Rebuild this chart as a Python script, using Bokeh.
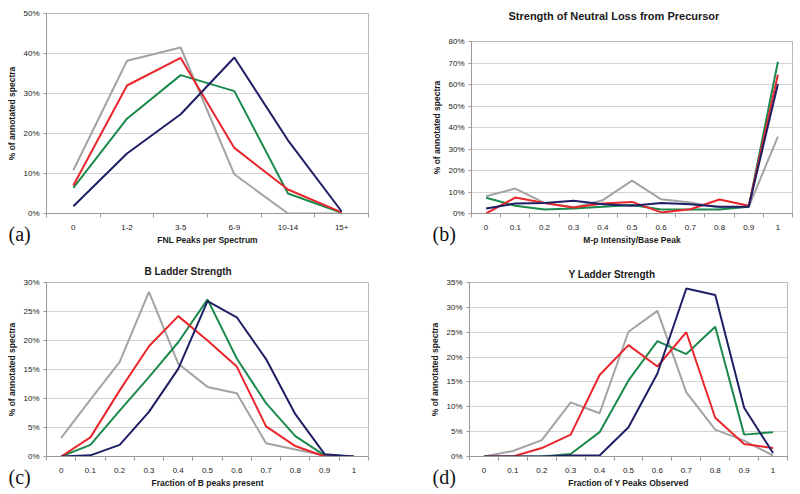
from bokeh.plotting import figure
from bokeh.layouts import column, row
from bokeh.models import FixedTicker, Range1d, Label, PrintfTickFormatter, Title
from bokeh.embed import file_html
from bokeh.resources import INLINE

# ---------------- data ----------------
fnl_labels = ["0", "1-2", "3-5", "6-9", "10-14", "15+"]
fnl_navy = [1.8, 15.0, 24.8, 39.0, 18.3, 0.5]
fnl_red = [7.0, 32.0, 38.9, 16.4, 6.0, 0.3]
fnl_green = [6.4, 23.7, 34.6, 30.6, 5.0, 0.2]
fnl_gray = [10.8, 38.2, 41.5, 9.8, 0.0, 0.0]

frac_labels = ["0", "0.1", "0.2", "0.3", "0.4", "0.5", "0.6", "0.7", "0.8", "0.9", "1"]

nl_navy = [2.3, 4.6, 4.9, 5.9, 4.3, 3.6, 4.9, 4.3, 3.1, 3.1, 60.2]
nl_red = [0.0, 7.4, 4.9, 2.8, 4.6, 5.4, 0.5, 2.0, 6.5, 3.6, 64.5]
nl_green = [7.3, 3.6, 1.9, 2.3, 3.1, 4.0, 1.9, 1.9, 1.9, 3.1, 70.6]
nl_gray = [8.0, 11.6, 4.9, 2.8, 6.2, 15.3, 6.6, 5.1, 2.8, 3.1, 35.8]

b_navy = [0.0, 0.2, 2.0, 7.7, 15.1, 26.8, 24.0, 16.8, 7.3, 0.4, 0.0]
b_red = [0.0, 3.3, 11.4, 19.0, 24.2, 20.0, 15.5, 5.2, 1.8, 0.0, 0.0]
b_green = [0.0, 2.0, 7.9, 13.7, 19.7, 27.1, 16.9, 9.2, 3.5, 0.2, 0.0]
b_gray = [3.2, 9.8, 16.3, 28.4, 16.0, 12.0, 10.9, 2.3, 1.2, 0.2, 0.0]

y_navy = [0.0, 0.0, 0.0, 0.2, 0.2, 5.9, 16.7, 33.8, 32.5, 9.8, 0.7]
y_red = [0.0, 0.0, 1.7, 4.4, 16.4, 22.4, 18.1, 25.0, 7.8, 2.5, 1.7]
y_green = [0.0, 0.0, 0.0, 0.5, 4.9, 15.3, 23.2, 20.6, 26.1, 4.4, 4.9]
y_gray = [0.0, 1.1, 3.3, 10.9, 8.7, 25.1, 29.3, 12.9, 5.4, 3.2, 0.2]

COLORS = {"gray": "#a3a3a3", "green": "#1b8a4c", "red": "#e8262b", "navy": "#1f1f66"}
FONT = "Liberation Sans"
SERIF = "Liberation Serif"


def make_panel(labels, series, ymax, ystep, xlabel, w, h, bl, br, bt, bb):
    n = len(labels)
    xs = list(range(n))
    p = figure(width=w, height=h, output_backend="svg", toolbar_location=None,
               title=None,
               x_range=Range1d(-0.5, n - 0.5), y_range=Range1d(0, ymax),
               min_border_left=bl, min_border_right=br, min_border_top=bt,
               min_border_bottom=bb, background_fill_color="white",
               border_fill_color="white", outline_line_color="#b8b8b8",
               frame_align=False)
    p.outline_line_width = 1
    for key in ["gray", "green", "red", "navy"]:
        p.line(xs, series[key], line_color=COLORS[key], line_width=2)
    # x axis
    xa = p.xaxis[0]
    xa.ticker = FixedTicker(ticks=xs, minor_ticks=[i - 0.5 for i in range(n + 1)])
    xa.major_label_overrides = {i: lab for i, lab in enumerate(labels)}
    xa.major_tick_line_color = None
    xa.major_tick_out = 0
    xa.major_tick_in = 0
    xa.minor_tick_line_color = "#9a9a9a"
    xa.minor_tick_out = 4
    xa.minor_tick_in = 0
    xa.major_label_standoff = 7
    xa.axis_line_color = "#9a9a9a"
    xa.major_label_text_font = FONT
    xa.major_label_text_font_size = "8px"
    xa.major_label_text_color = "#222222"
    xa.axis_label = xlabel
    xa.axis_label_text_font = FONT
    xa.axis_label_text_font_size = "8.5px"
    xa.axis_label_text_font_style = "bold"
    xa.axis_label_text_color = "#1a1a1a"
    xa.axis_label_standoff = 2
    # y axis
    ya = p.yaxis[0]
    ya.ticker = FixedTicker(ticks=list(range(0, ymax + 1, ystep)))
    ya.formatter = PrintfTickFormatter(format="%d%%")
    ya.minor_tick_line_color = None
    ya.major_tick_line_color = "#9a9a9a"
    ya.major_tick_out = 3
    ya.major_tick_in = 0
    ya.major_label_standoff = 4
    ya.axis_line_color = "#9a9a9a"
    ya.major_label_text_font = FONT
    ya.major_label_text_font_size = "8px"
    ya.major_label_text_color = "#222222"
    ya.axis_label = "% of annotated spectra"
    ya.axis_label_text_font = FONT
    ya.axis_label_text_font_size = "8.5px"
    ya.axis_label_text_font_style = "bold"
    ya.axis_label_text_color = "#1a1a1a"
    ya.axis_label_standoff = 3
    p.xgrid.grid_line_color = None
    p.ygrid.grid_line_color = "#d2d2d2"
    p.ygrid.grid_line_width = 1
    return p


def add_title(p, text, offset, standoff):
    t = Title(text=text, align="left", offset=offset, standoff=standoff,
              text_font=FONT, text_font_size="10px", text_font_style="bold",
              text_color="#1a1a1a")
    p.add_layout(t, "above")


def add_title_label(p, text, x, y):
    lab = Label(x=x, y=y, x_units="screen", y_units="screen", text=text,
                text_font=FONT, text_font_size="11px", text_font_style="bold",
                text_color="#1a1a1a", text_baseline="middle", text_align="left")
    p.add_layout(lab, "above")


def add_tag(p, text, offset, standoff):
    t = Title(text=text, align="left", offset=offset, standoff=standoff,
              vertical_align="top",
              text_font=SERIF, text_font_size="20px", text_font_style="normal",
              text_color="#111111")
    p.add_layout(t, "below")


pa = make_panel(fnl_labels, {"navy": fnl_navy, "red": fnl_red, "green": fnl_green, "gray": fnl_gray},
                50, 10, "FNL Peaks per Spectrum", 420, 250, 46, 52, 13, 37)
pb = make_panel(frac_labels, {"navy": nl_navy, "red": nl_red, "green": nl_green, "gray": nl_gray},
                80, 10, "M-p Intensity/Base Peak", 380, 250, 51, 8, 41, 37)
pc = make_panel(frac_labels, {"navy": b_navy, "red": b_red, "green": b_green, "gray": b_gray},
                30, 5, "Fraction of B peaks present", 420, 244, 46, 52, 32, 38)
pd = make_panel(frac_labels, {"navy": y_navy, "red": y_red, "green": y_green, "gray": y_gray},
                35, 5, "Fraction of Y Peaks Observed", 380, 244, 49, 13, 32, 38)

add_title_label(pb, "Strength of Neutral Loss from Precursor", 37, 26)
add_title(pc, "B Ladder Strength", 98, 12)
add_title(pd, "Y Ladder Strength", 99, 5)

add_tag(pa, "(a)", -38, -50)
add_tag(pb, "(b)", -39, -50)
add_tag(pc, "(c)", -38, -50)
add_tag(pd, "(d)", -37, -50)

layout = column(row(pa, pb), row(pc, pd))
open("out.html", "w").write(file_html(layout, INLINE))
